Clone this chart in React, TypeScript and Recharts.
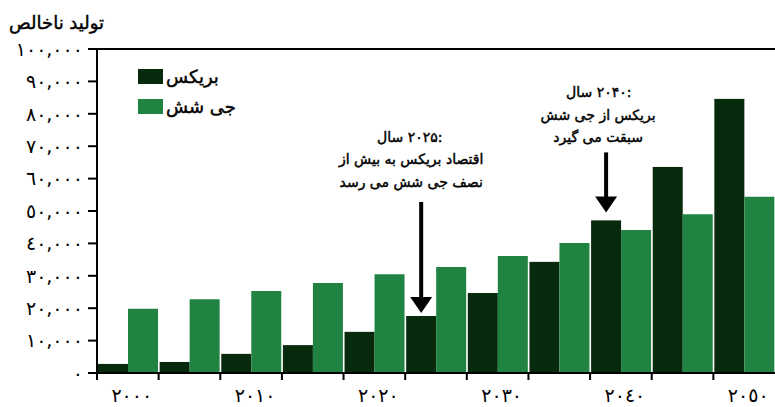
import React from 'react';
import { BarChart, Bar, XAxis, YAxis, ReferenceLine } from 'recharts';

// ---- data ----
const YEARS = [2000, 2005, 2010, 2015, 2020, 2025, 2030, 2035, 2040, 2045, 2050];
const BRICS = [2800, 3400, 5900, 8600, 12700, 17600, 24700, 34300, 47100, 63600, 84600];
const G6 = [19800, 22800, 25300, 27800, 30500, 32700, 36100, 40100, 44100, 49000, 54400];
const X_LABELS = ['٢٠٠٠', '', '٢٠١٠', '', '٢٠٢٠', '', '٢٠٣٠', '', '٢٠٤٠', '', '٢٠٥٠'];
const Y_TICKS = [0, 10000, 20000, 30000, 40000, 50000, 60000, 70000, 80000, 90000, 100000];
const Y_LABELS = ['٠', '١٠,٠٠٠', '٢٠,٠٠٠', '٣٠,٠٠٠', '٤٠,٠٠٠', '٥٠,٠٠٠', '٦٠,٠٠٠', '٧٠,٠٠٠', '٨٠,٠٠٠', '٩٠,٠٠٠', '١٠٠,٠٠٠'];
const TITLE = 'تولید ناخالص';
const SERIES_NAMES = ['بریکس', 'جی شش'];
const NOTE_YEARS = [2025, 2040];
const NOTE_HEAD_WORD = 'سال';
const NOTE_HEAD_YEAR = ['۲۰۲۵:', '۲۰۴۰:'];
const NOTE_LINES = [
  ['اقتصاد بریکس به بیش از', 'نصف جی شش می رسد'],
  ['بریکس از جی شش', 'سبقت می گیرد'],
];

const data = YEARS.map((year, i) => ({ year, brics: BRICS[i], g6: G6[i] }));

// ---- layout / style ----
const W = 775;
const H = 407;
const Y_AXIS_W = 97;
const BAND = (W - Y_AXIS_W) / YEARS.length;
const DARK = '#062a0b';
const GREEN = '#218342';
const FONT = '"DejaVu Sans", sans-serif';
const NOTE_FS = 14;
const LINE_H = 22.5;
const NOTE_LAYOUT = [
  { gap: 3, len: 111, textGap: 15, dx: -10, split: -8 },
  { gap: 8, len: 60, textGap: 10, dx: -8, split: -6 },
];

const BricsShape = (props: any) => {
  const { x, y, width, height, index } = props;
  const k = NOTE_YEARS.indexOf(YEARS[index]);
  const rect = <rect x={x} y={y} width={width} height={height} fill={DARK} />;
  if (k < 0) return rect;
  const lay = NOTE_LAYOUT[k];
  const cx = x + width / 2;
  const tip = y - lay.gap;
  const top = tip - lay.len;
  const headH = 16;
  const headW = 22;
  const lines = NOTE_LINES[k];
  const tx = cx + lay.dx;
  const lastY = top - lay.textGap;
  const headY = lastY - lines.length * LINE_H;
  const txt = { fontSize: NOTE_FS, fill: '#000', stroke: '#000', strokeWidth: 0.45, style: { fontFamily: FONT } };
  return (
    <g>
      {rect}
      <rect x={cx - 2} y={top} width={4} height={lay.len - headH + 1} fill="#000" />
      <polygon
        points={`${cx - headW / 2},${tip - headH} ${cx + headW / 2},${tip - headH} ${cx},${tip}`}
        fill="#000"
      />
      <text x={tx + lay.split - 13} y={headY} textAnchor="middle" {...txt}>
        {NOTE_HEAD_WORD}
      </text>
      <text x={tx + lay.split + 22} y={headY} textAnchor="middle" {...txt}>
        {NOTE_HEAD_YEAR[k]}
      </text>
      {lines.map((l, i) => (
        <text key={i} x={tx} y={lastY - (lines.length - 1 - i) * LINE_H} textAnchor="middle" {...txt}>
          {l}
        </text>
      ))}
    </g>
  );
};

const XTick = (props: any) => {
  const { x, y, index } = props;
  const bx = x - BAND / 2;
  const label = X_LABELS[index];
  return (
    <g>
      <line x1={bx} x2={bx} y1={y} y2={y + 7} stroke="#000" strokeWidth={2} />
      {label ? (
        <text x={x + 4} y={y + 29} textAnchor="middle" fontSize={19} fill="#000" style={{ fontFamily: FONT }}>
          {label}
        </text>
      ) : null}
    </g>
  );
};

export default function App() {
  const colors = [DARK, GREEN];
  return (
    <div style={{ position: 'absolute', left: 0, top: 0, width: W, height: H, background: '#fff', overflow: 'hidden' }}>
      <BarChart
        width={W}
        height={H}
        data={data}
        margin={{ top: 49, right: 0, left: 0, bottom: 0 }}
        barCategoryGap={1}
        barGap={0}
        style={{ fontFamily: FONT }}
      >
        <ReferenceLine y={100000} stroke="#000" strokeWidth={2} />
        <XAxis
          dataKey="year"
          height={34}
          interval={0}
          tickSize={0}
          tickMargin={0}
          tickLine={false}
          axisLine={{ stroke: '#000', strokeWidth: 2 }}
          tick={<XTick />}
        />
        <YAxis
          domain={[0, 100000]}
          ticks={Y_TICKS}
          interval={0}
          width={Y_AXIS_W}
          tickSize={9}
          tickMargin={5}
          axisLine={{ stroke: '#000', strokeWidth: 2 }}
          tickLine={{ stroke: '#000', strokeWidth: 2 }}
          tick={{ fill: '#000', fontSize: 19, fontFamily: FONT }}
          tickFormatter={(v: number) => Y_LABELS[Y_TICKS.indexOf(v)]}
        />
        <Bar dataKey="brics" name={SERIES_NAMES[0]} fill={DARK} isAnimationActive={false} shape={<BricsShape />} />
        <Bar dataKey="g6" name={SERIES_NAMES[1]} fill={GREEN} isAnimationActive={false} />
      </BarChart>
      <div
        style={{
          position: 'absolute',
          left: 9,
          top: 12,
          fontFamily: FONT,
          fontSize: 18,
          WebkitTextStroke: '0.45px #000',
          color: '#000',
          direction: 'rtl',
          whiteSpace: 'nowrap',
        }}
      >
        {TITLE}
      </div>
      <div
        style={{
          position: 'absolute',
          left: 138,
          top: 61,
          fontFamily: FONT,
          fontSize: 18,
          WebkitTextStroke: '0.45px #000',
          color: '#000',
        }}
      >
        {SERIES_NAMES.map((n, i) => (
          <div key={n} style={{ display: 'flex', alignItems: 'center', height: 30 }}>
            <div style={{ width: 25, height: 15, background: colors[i] }} />
            <span style={{ marginLeft: 3, direction: 'rtl', whiteSpace: 'nowrap' }}>{n}</span>
          </div>
        ))}
      </div>
    </div>
  );
}
